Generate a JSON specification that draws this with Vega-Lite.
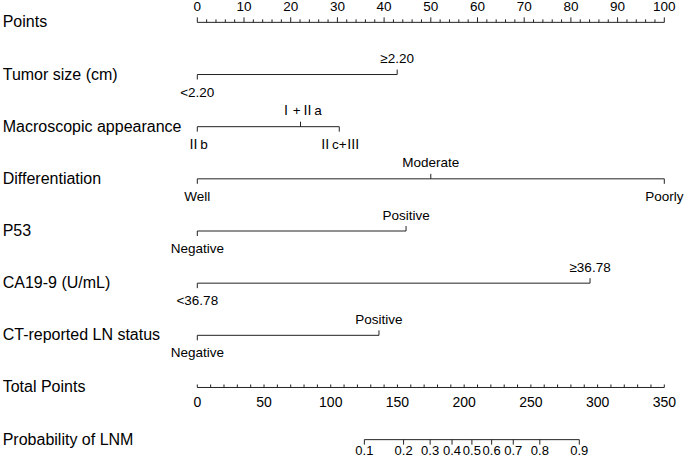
{
  "$schema": "https://vega.github.io/schema/vega-lite/v6.json",
  "width": 685,
  "height": 462,
  "autosize": "none",
  "padding": 0,
  "background": "white",
  "config": {"view": {"stroke": null}, "text": {"font": "Liberation Sans", "color": "#000"}, "rule": {"color": "#222", "strokeWidth": 1}},
  "datasets": {
    "rows": [
      {"row": "Points"}, {"row": "Tumor size (cm)"}, {"row": "Macroscopic appearance"}, {"row": "Differentiation"},
      {"row": "P53"}, {"row": "CA19-9 (U/mL)"}, {"row": "CT-reported LN status"}, {"row": "Total Points"}, {"row": "Probability of LNM"}
    ],
    "segments": [
      {"row": "Points", "start": 0, "end": 100},
      {"row": "Tumor size (cm)", "start": 0, "end": 42.8},
      {"row": "Macroscopic appearance", "start": 0, "end": 30.4},
      {"row": "Differentiation", "start": 0, "end": 100},
      {"row": "P53", "start": 0, "end": 44.7},
      {"row": "CA19-9 (U/mL)", "start": 0, "end": 84.1},
      {"row": "CT-reported LN status", "start": 0, "end": 38.9}
    ],
    "levels": [
      {"row": "Tumor size (cm)", "label": "<2.20", "points": 0, "side": "below"},
      {"row": "Tumor size (cm)", "label": "≥2.20", "points": 42.8, "side": "above"},
      {"row": "Macroscopic appearance", "label": "Ⅱb", "points": 0, "side": "below"},
      {"row": "Macroscopic appearance", "label": "Ⅰ+Ⅱa", "points": 22.1, "side": "above"},
      {"row": "Macroscopic appearance", "label": "Ⅱc+Ⅲ", "points": 30.4, "side": "below"},
      {"row": "Differentiation", "label": "Well", "points": 0, "side": "below"},
      {"row": "Differentiation", "label": "Moderate", "points": 50, "side": "above"},
      {"row": "Differentiation", "label": "Poorly", "points": 100, "side": "below"},
      {"row": "P53", "label": "Negative", "points": 0, "side": "below"},
      {"row": "P53", "label": "Positive", "points": 44.7, "side": "above"},
      {"row": "CA19-9 (U/mL)", "label": "<36.78", "points": 0, "side": "below"},
      {"row": "CA19-9 (U/mL)", "label": "≥36.78", "points": 84.1, "side": "above"},
      {"row": "CT-reported LN status", "label": "Negative", "points": 0, "side": "below"},
      {"row": "CT-reported LN status", "label": "Positive", "points": 38.9, "side": "above"}
    ],
    "pointTicks": [
      {"value": 0}, {"value": 2}, {"value": 4}, {"value": 6}, {"value": 8}, {"value": 10}, {"value": 12}, {"value": 14}, {"value": 16}, {"value": 18},
      {"value": 20}, {"value": 22}, {"value": 24}, {"value": 26}, {"value": 28}, {"value": 30}, {"value": 32}, {"value": 34}, {"value": 36}, {"value": 38},
      {"value": 40}, {"value": 42}, {"value": 44}, {"value": 46}, {"value": 48}, {"value": 50}, {"value": 52}, {"value": 54}, {"value": 56}, {"value": 58},
      {"value": 60}, {"value": 62}, {"value": 64}, {"value": 66}, {"value": 68}, {"value": 70}, {"value": 72}, {"value": 74}, {"value": 76}, {"value": 78},
      {"value": 80}, {"value": 82}, {"value": 84}, {"value": 86}, {"value": 88}, {"value": 90}, {"value": 92}, {"value": 94}, {"value": 96}, {"value": 98},
      {"value": 100}
    ],
    "totalLines": [
      {"row": "Total Points", "start": 0, "end": 350},
      {"row": "Probability of LNM", "start": 125.2, "end": 286.3}
    ],
    "totalTicks": [
      {"value": 0}, {"value": 10}, {"value": 20}, {"value": 30}, {"value": 40}, {"value": 50}, {"value": 60}, {"value": 70}, {"value": 80}, {"value": 90},
      {"value": 100}, {"value": 110}, {"value": 120}, {"value": 130}, {"value": 140}, {"value": 150}, {"value": 160}, {"value": 170}, {"value": 180}, {"value": 190},
      {"value": 200}, {"value": 210}, {"value": 220}, {"value": 230}, {"value": 240}, {"value": 250}, {"value": 260}, {"value": 270}, {"value": 280}, {"value": 290},
      {"value": 300}, {"value": 310}, {"value": 320}, {"value": 330}, {"value": 340}, {"value": 350}
    ],
    "probTicks": [
      {"p": "0.1", "total": 125.2}, {"p": "0.2", "total": 154.6}, {"p": "0.3", "total": 174.5}, {"p": "0.4", "total": 190.9},
      {"p": "0.5", "total": 205.8}, {"p": "0.6", "total": 220.6}, {"p": "0.7", "total": 236.8}, {"p": "0.8", "total": 256.7}, {"p": "0.9", "total": 286.3}
    ]
  },
  "resolve": {"scale": {"x": "independent"}},
  "layer": [
    {
      "data": {"name": "rows"},
      "mark": {"type": "text", "align": "left", "baseline": "middle", "fontSize": 16},
      "encoding": {
        "x": {"datum": -41.67, "type": "quantitative", "scale": {"domain": [-42.248, 104.433], "nice": false, "zero": false}, "axis": null},
        "y": {"field": "row", "type": "nominal", "scale": {"type": "point", "domain": ["Points", "Tumor size (cm)", "Macroscopic appearance", "Differentiation", "P53", "CA19-9 (U/mL)", "CT-reported LN status", "Total Points", "Probability of LNM"], "padding": 0.4286}, "axis": null},
        "text": {"field": "row"}
      }
    },
    {
      "data": {"name": "segments"},
      "mark": {"type": "rule"},
      "encoding": {
        "x": {"field": "start", "type": "quantitative", "scale": {"domain": [-42.248, 104.433], "nice": false, "zero": false}, "axis": null},
        "x2": {"field": "end"},
        "y": {"field": "row", "type": "nominal", "axis": null}
      }
    },
    {
      "data": {"name": "levels"},
      "transform": [{"filter": "datum.side == 'above'"}],
      "mark": {"type": "rule", "y2Offset": -5},
      "encoding": {
        "x": {"field": "points", "type": "quantitative", "scale": {"domain": [-42.248, 104.433], "nice": false, "zero": false}, "axis": null},
        "y": {"field": "row", "type": "nominal", "axis": null},
        "y2": {"field": "row"}
      }
    },
    {
      "data": {"name": "levels"},
      "transform": [{"filter": "datum.side == 'below'"}],
      "mark": {"type": "rule", "y2Offset": 5},
      "encoding": {
        "x": {"field": "points", "type": "quantitative", "scale": {"domain": [-42.248, 104.433], "nice": false, "zero": false}, "axis": null},
        "y": {"field": "row", "type": "nominal", "axis": null},
        "y2": {"field": "row"}
      }
    },
    {
      "data": {"name": "levels"},
      "transform": [{"filter": "datum.side == 'above'"}],
      "mark": {"type": "text", "align": "center", "baseline": "middle", "fontSize": 13.5, "dy": -15.5, "font": "Liberation Sans, Noto Sans CJK SC"},
      "encoding": {
        "x": {"field": "points", "type": "quantitative", "scale": {"domain": [-42.248, 104.433], "nice": false, "zero": false}, "axis": null},
        "y": {"field": "row", "type": "nominal", "axis": null},
        "text": {"field": "label"}
      }
    },
    {
      "data": {"name": "levels"},
      "transform": [{"filter": "datum.side == 'below'"}],
      "mark": {"type": "text", "align": "center", "baseline": "middle", "fontSize": 13.5, "dy": 18, "font": "Liberation Sans, Noto Sans CJK SC"},
      "encoding": {
        "x": {"field": "points", "type": "quantitative", "scale": {"domain": [-42.248, 104.433], "nice": false, "zero": false}, "axis": null},
        "y": {"field": "row", "type": "nominal", "axis": null},
        "text": {"field": "label"}
      }
    },
    {
      "data": {"name": "pointTicks"},
      "transform": [{"filter": "datum.value % 10 == 0"}],
      "mark": {"type": "rule", "y2Offset": -5},
      "encoding": {
        "x": {"field": "value", "type": "quantitative", "scale": {"domain": [-42.248, 104.433], "nice": false, "zero": false}, "axis": null},
        "y": {"datum": "Points", "type": "nominal", "axis": null},
        "y2": {"datum": "Points"}
      }
    },
    {
      "data": {"name": "pointTicks"},
      "transform": [{"filter": "datum.value % 10 != 0"}],
      "mark": {"type": "rule", "y2Offset": -3},
      "encoding": {
        "x": {"field": "value", "type": "quantitative", "scale": {"domain": [-42.248, 104.433], "nice": false, "zero": false}, "axis": null},
        "y": {"datum": "Points", "type": "nominal", "axis": null},
        "y2": {"datum": "Points"}
      }
    },
    {
      "data": {"name": "pointTicks"},
      "transform": [{"filter": "datum.value % 10 == 0"}],
      "mark": {"type": "text", "align": "center", "baseline": "alphabetic", "fontSize": 13.5, "dy": -11},
      "encoding": {
        "x": {"field": "value", "type": "quantitative", "scale": {"domain": [-42.248, 104.433], "nice": false, "zero": false}, "axis": null},
        "y": {"datum": "Points", "type": "nominal", "axis": null},
        "text": {"field": "value"}
      }
    },
    {
      "data": {"name": "totalLines"},
      "mark": {"type": "rule"},
      "encoding": {
        "x": {"field": "start", "type": "quantitative", "scale": {"domain": [-147.87, 365.51], "nice": false, "zero": false}, "axis": null},
        "x2": {"field": "end"},
        "y": {"field": "row", "type": "nominal", "axis": null}
      }
    },
    {
      "data": {"name": "totalTicks"},
      "mark": {"type": "rule", "y2Offset": -3},
      "encoding": {
        "x": {"field": "value", "type": "quantitative", "scale": {"domain": [-147.87, 365.51], "nice": false, "zero": false}, "axis": null},
        "y": {"datum": "Total Points", "type": "nominal", "axis": null},
        "y2": {"datum": "Total Points"}
      }
    },
    {
      "data": {"name": "totalTicks"},
      "transform": [{"filter": "datum.value % 50 == 0"}],
      "mark": {"type": "text", "align": "center", "baseline": "middle", "fontSize": 14, "dy": 16},
      "encoding": {
        "x": {"field": "value", "type": "quantitative", "scale": {"domain": [-147.87, 365.51], "nice": false, "zero": false}, "axis": null},
        "y": {"datum": "Total Points", "type": "nominal", "axis": null},
        "text": {"field": "value"}
      }
    },
    {
      "data": {"name": "probTicks"},
      "mark": {"type": "rule", "y2Offset": 5},
      "encoding": {
        "x": {"field": "total", "type": "quantitative", "scale": {"domain": [-147.87, 365.51], "nice": false, "zero": false}, "axis": null},
        "y": {"datum": "Probability of LNM", "type": "nominal", "axis": null},
        "y2": {"datum": "Probability of LNM"}
      }
    },
    {
      "data": {"name": "probTicks"},
      "mark": {"type": "text", "align": "center", "baseline": "middle", "fontSize": 13, "dy": 11.5},
      "encoding": {
        "x": {"field": "total", "type": "quantitative", "scale": {"domain": [-147.87, 365.51], "nice": false, "zero": false}, "axis": null},
        "y": {"datum": "Probability of LNM", "type": "nominal", "axis": null},
        "text": {"field": "p"}
      }
    }
  ]
}
